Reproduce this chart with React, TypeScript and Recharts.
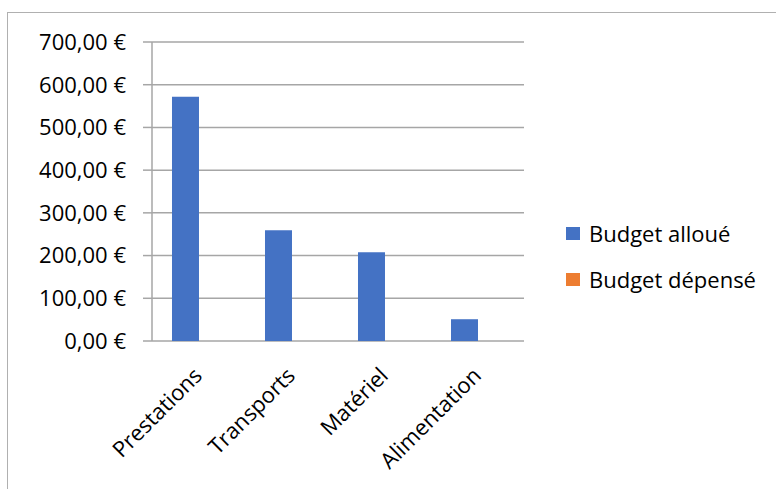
import React from 'react'
import { BarChart, Bar, XAxis, YAxis, CartesianGrid, Legend } from 'recharts'

const categories = ['Prestations', 'Transports', 'Matériel', 'Alimentation']
const budgetAlloue = [572, 259, 208, 51]
const budgetDepense = [0, 0, 0, 0]
const yTicks = [0, 100, 200, 300, 400, 500, 600, 700]
const boundaryTicks = [0, 1, 2, 3, 4]

const seriesInfo = [
  { key: 'alloue', name: 'Budget alloué', color: '#4472C4' },
  { key: 'depense', name: 'Budget dépensé', color: '#ED7D31' },
]

const FONT = '"Open Sans", "Noto Sans", sans-serif'
const AXIS_GREY = '#a6a6a6'

const formatEuro = (v: number): string => `${v.toFixed(2).replace('.', ',')} €`

const XTick = (props: any) => {
  const { x, y, payload } = props
  return (
    <g transform={`translate(${x + 5},${y + 36})`}>
      <text textAnchor="end" transform="rotate(-45)" fontSize={22} fontFamily={FONT} fill="#000">
        {payload.value}
      </text>
    </g>
  )
}

const LegendBox = () => (
  <div style={{ fontFamily: FONT, fontSize: 22, color: '#000' }}>
    {seriesInfo.map((s) => (
      <div key={s.key} style={{ display: 'flex', alignItems: 'center', height: 46 }}>
        <span style={{ width: 14, height: 13, background: s.color, marginRight: 9, display: 'inline-block' }} />
        <span>{s.name}</span>
      </div>
    ))}
  </div>
)

export default function App() {
  const data = categories.map((name, i) => ({
    name,
    alloue: budgetAlloue[i],
    depense: budgetDepense[i],
  }))

  return (
    <div style={{ position: 'relative', width: 776, height: 489, background: '#fff', overflow: 'hidden' }}>
      <style>{'body{margin:0}'}</style>
      <div
        style={{
          position: 'absolute',
          left: 7,
          top: 12,
          width: 800,
          height: 500,
          borderLeft: '1.5px solid #b0b0b0',
          borderTop: '1.5px solid #b0b0b0',
        }}
      />
      <BarChart
        width={776}
        height={489}
        data={data}
        margin={{ top: 42, right: 252, left: 0, bottom: 0 }}
        barCategoryGap="21.5%"
        barGap={0}
        style={{ position: 'absolute', left: 0, top: 0 }}
      >
        <CartesianGrid vertical={false} stroke={AXIS_GREY} strokeWidth={1.5} />
        <XAxis
          xAxisId="edges"
          type="number"
          domain={[0, 4]}
          ticks={boundaryTicks}
          tick={false}
          height={0}
          tickSize={8}
          stroke={AXIS_GREY}
          strokeWidth={1.5}
          allowDataOverflow
        />
        <XAxis
          dataKey="name"
          height={148}
          axisLine={false}
          tickLine={false}
          tickSize={0}
          tickMargin={0}
          interval={0}
          tick={<XTick />}
        />
        <YAxis
          width={152}
          domain={[0, 700]}
          ticks={yTicks}
          tickFormatter={formatEuro}
          tickSize={9}
          tickMargin={17}
          stroke={AXIS_GREY}
          strokeWidth={1.5}
          tick={{ fill: '#000', fontSize: 22, fontFamily: FONT }}
        />
        <Legend
          layout="horizontal"
          verticalAlign="middle"
          content={<LegendBox />}
          wrapperStyle={{ left: 566, top: 210, width: 210 }}
        />
        {seriesInfo.map((s) => (
          <Bar key={s.key} dataKey={s.key} name={s.name} fill={s.color} isAnimationActive={false} />
        ))}
      </BarChart>
    </div>
  )
}
